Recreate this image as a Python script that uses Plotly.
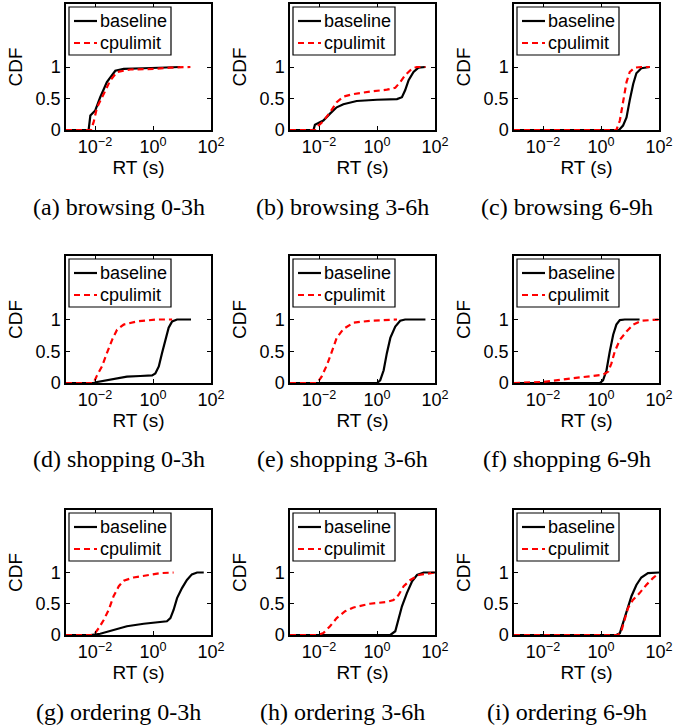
import plotly.graph_objects as go

# ---------------- data (x values are log10 of RT in seconds, y values are CDF) -------------
panel_captions = ["(a) browsing 0-3h", "(b) browsing 3-6h", "(c) browsing 6-9h",
                  "(d) shopping 0-3h", "(e) shopping 3-6h", "(f) shopping 6-9h",
                  "(g) ordering 0-3h", "(h) ordering 3-6h", "(i) ordering 6-9h"]
series_names = ["baseline", "cpulimit"]
x_tick_values = [0.01, 1, 100]
x_tick_labels = ["10<sup>\u22122</sup>", "10<sup>0</sup>", "10<sup>2</sup>"]
y_tick_values = [0, 0.5, 1]
y_tick_labels = ["0", "0.5", "1"]

a_base_log = [-3, -2.22, -2.16, -1.99, -1.82, -1.59, -1.30, -1.01, -0.32, 0.94]
a_base_cdf = [0, 0, 0.23, 0.31, 0.52, 0.76, 0.94, 0.97, 0.98, 1.0]
a_cpu_log = [-3, -2.14, -2.05, -1.93, -1.70, -1.47, -1.24, -0.78, 0.03, 0.6, 1.29]
a_cpu_cdf = [0, 0, 0.12, 0.36, 0.57, 0.79, 0.92, 0.96, 0.97, 0.99, 1.0]

b_base_log = [-3, -2.19, -2.14, -2.02, -1.85, -1.62, -1.39, -1.16, -0.70, 0.0, 0.69, 0.86, 0.97, 1.09, 1.26, 1.43, 1.67]
b_base_cdf = [0, 0, 0.085, 0.11, 0.15, 0.26, 0.36, 0.41, 0.46, 0.48, 0.49, 0.52, 0.63, 0.79, 0.92, 0.99, 1.0]
b_cpu_log = [-3, -2.14, -2.02, -1.85, -1.62, -1.39, -1.16, -0.81, -0.24, 0.34, 0.63, 0.80, 0.97, 1.20, 1.37, 1.67]
b_cpu_cdf = [0, 0, 0.07, 0.14, 0.28, 0.44, 0.53, 0.57, 0.61, 0.64, 0.67, 0.76, 0.87, 0.97, 1.0, 1.0]

c_base_log = [-3, 0.62, 0.76, 0.88, 0.99, 1.11, 1.22, 1.39, 1.68]
c_base_cdf = [0, 0, 0.07, 0.20, 0.47, 0.73, 0.90, 0.98, 1.0]
c_cpu_log = [-3, 0.53, 0.65, 0.76, 0.88, 0.99, 1.16, 1.39, 1.68]
c_cpu_cdf = [0, 0, 0.15, 0.47, 0.76, 0.92, 0.99, 1.0, 1.0]

d_base_log = [-3, -2.05, -1.93, -1.47, -0.90, -0.44, -0.03, 0.08, 0.20, 0.31, 0.43, 0.54, 0.66, 0.83, 1.31]
d_base_cdf = [0, 0, 0.016, 0.05, 0.10, 0.11, 0.12, 0.15, 0.26, 0.47, 0.68, 0.87, 0.97, 1.0, 1.0]
d_cpu_log = [-3, -2.05, -1.93, -1.76, -1.59, -1.41, -1.24, -1.01, -0.55, 0.14, 0.66]
d_cpu_cdf = [0, 0, 0.12, 0.26, 0.47, 0.68, 0.84, 0.92, 0.97, 1.0, 1.0]

e_base_log = [-3, 0.0, 0.11, 0.23, 0.34, 0.46, 0.63, 0.80, 0.97, 1.67]
e_base_cdf = [0, 0, 0.04, 0.20, 0.47, 0.71, 0.89, 0.98, 1.0, 1.0]
e_cpu_log = [-3, -2.06, -1.91, -1.73, -1.56, -1.39, -1.16, -0.81, -0.24, 0.69]
e_cpu_cdf = [0, 0, 0.10, 0.28, 0.49, 0.71, 0.85, 0.95, 0.98, 1.0]

f_base_log = [-3, -0.04, 0.07, 0.19, 0.30, 0.42, 0.53, 0.65, 0.82, 1.33]
f_base_cdf = [0, 0, 0.04, 0.20, 0.49, 0.76, 0.92, 0.99, 1.0, 1.0]
f_cpu_log = [-3, -1.99, -1.07, -0.27, 0.07, 0.25, 0.36, 0.47, 0.65, 0.88, 1.11, 1.39, 2.0]
f_cpu_cdf = [0, 0.016, 0.07, 0.11, 0.13, 0.18, 0.31, 0.49, 0.68, 0.81, 0.92, 0.98, 1.0]

g_base_log = [-3, -2.16, -1.82, -1.36, -0.90, -0.32, 0.25, 0.48, 0.60, 0.71, 0.83, 1.0, 1.17, 1.34, 1.52, 1.75]
g_base_cdf = [0, 0, 0.02, 0.085, 0.14, 0.18, 0.20, 0.22, 0.27, 0.40, 0.59, 0.75, 0.88, 0.97, 1.0, 1.0]
g_cpu_log = [-3, -2.05, -1.87, -1.70, -1.53, -1.36, -1.18, -1.01, -0.67, -0.21, 0.25, 0.71]
g_cpu_cdf = [0, 0, 0.11, 0.24, 0.40, 0.62, 0.78, 0.87, 0.92, 0.96, 0.99, 1.0]

h_base_log = [-3, 0.46, 0.63, 0.74, 0.86, 1.03, 1.21, 1.38, 1.61, 2.0]
h_base_cdf = [0, 0, 0.06, 0.24, 0.46, 0.67, 0.86, 0.96, 1.0, 1.0]
h_cpu_log = [-3, -2.06, -1.85, -1.62, -1.39, -1.10, -0.81, -0.24, 0.34, 0.57, 0.74, 0.92, 1.15, 1.44, 2.0]
h_cpu_cdf = [0, 0, 0.03, 0.14, 0.27, 0.38, 0.44, 0.50, 0.53, 0.56, 0.64, 0.78, 0.88, 0.96, 1.0]

i_base_log = [-3, 0.53, 0.65, 0.76, 0.88, 1.05, 1.22, 1.39, 1.62, 2.0]
i_base_cdf = [0, 0, 0.03, 0.19, 0.40, 0.62, 0.80, 0.92, 0.99, 1.0]
i_cpu_log = [-3, 0.59, 0.70, 0.82, 0.93, 1.10, 1.33, 1.56, 1.79, 2.0]
i_cpu_cdf = [0, 0, 0.06, 0.24, 0.43, 0.56, 0.67, 0.80, 0.91, 0.99]

panels = [
    (a_base_log, a_base_cdf, a_cpu_log, a_cpu_cdf),
    (b_base_log, b_base_cdf, b_cpu_log, b_cpu_cdf),
    (c_base_log, c_base_cdf, c_cpu_log, c_cpu_cdf),
    (d_base_log, d_base_cdf, d_cpu_log, d_cpu_cdf),
    (e_base_log, e_base_cdf, e_cpu_log, e_cpu_cdf),
    (f_base_log, f_base_cdf, f_cpu_log, f_cpu_cdf),
    (g_base_log, g_base_cdf, g_cpu_log, g_cpu_cdf),
    (h_base_log, h_base_cdf, h_cpu_log, h_cpu_cdf),
    (i_base_log, i_base_cdf, i_cpu_log, i_cpu_cdf),
]

# ---------------- layout geometry (page pixels) ----------------
W, H = 694, 728
col_px = [(66, 211), (290, 435), (514, 659)]
row_px = [(4, 130), (256, 383), (510, 635)]
caption_y_px = [207, 459, 712]

SANS = "Liberation Sans, Arial, sans-serif"
SERIF = "Liberation Serif, Times New Roman, serif"
BASE_STYLE = dict(color="black", width=2.2)
CPU_STYLE = dict(color="#ff0000", width=2.2, dash="6px,4px")


def px(xp):
    return xp / W


def py(yp):
    return 1 - yp / H


fig = go.Figure()
annotations = []
shapes = []
layout = dict(
    width=W, height=H, margin=dict(l=0, r=0, t=0, b=0, autoexpand=False),
    paper_bgcolor="white", plot_bgcolor="white",
    font=dict(family=SANS, size=18, color="black"),
    showlegend=False, hovermode=False,
)

for k, (bx, by, cx, cy) in enumerate(panels):
    r, c = divmod(k, 3)
    n = "" if k == 0 else str(k + 1)
    xa, ya = "x" + n, "y" + n
    x0, x1 = col_px[c]
    y0, y1 = row_px[r]
    fig.add_trace(go.Scatter(
        x=[10 ** v for v in bx], y=by, mode="lines", name=series_names[0],
        line=BASE_STYLE, xaxis=xa, yaxis=ya))
    fig.add_trace(go.Scatter(
        x=[10 ** v for v in cx], y=cy, mode="lines", name=series_names[1],
        line=CPU_STYLE, xaxis=xa, yaxis=ya))
    common = dict(showline=True, linecolor="black", linewidth=1.5, mirror="ticks",
                  ticks="inside", ticklen=4, tickcolor="black", showgrid=False,
                  zeroline=False, automargin=False,
                  tickfont=dict(family=SANS, size=18, color="black"))
    layout["xaxis" + n] = dict(
        common, type="log", range=[-3, 2], domain=[px(x0), px(x1)], anchor=ya,
        tickvals=x_tick_values, ticktext=x_tick_labels,
        title=dict(text="RT (s)", font=dict(family=SANS, size=19), standoff=2))
    layout["yaxis" + n] = dict(
        common, range=[0, 2], domain=[py(y1), py(y0)], anchor=xa,
        tickvals=y_tick_values, ticktext=y_tick_labels,
        title=dict(text="CDF", font=dict(family=SANS, size=19), standoff=8))

    # legend box (drawn in the upper-left corner of each panel)
    shapes.append(dict(type="rect", xref="paper", yref="paper",
                       x0=px(x0 + 3), x1=px(x0 + 105), y0=py(y0 + 51), y1=py(y0 + 3),
                       line=dict(color="black", width=1.2), fillcolor="white", layer="above"))
    for j, (name, style) in enumerate(zip(series_names, [BASE_STYLE, CPU_STYLE])):
        ly = y0 + 17 + 22 * j
        shapes.append(dict(type="line", xref="paper", yref="paper",
                           x0=px(x0 + 8), x1=px(x0 + 31), y0=py(ly), y1=py(ly),
                           line=style, layer="above"))
        annotations.append(dict(text=name, x=px(x0 + 32), y=py(ly), xref="paper", yref="paper",
                                showarrow=False, xanchor="left", yanchor="middle",
                                font=dict(family=SANS, size=18, color="black")))

    annotations.append(dict(
        text=panel_captions[k], x=px((x0 + x1) / 2 - 20), y=py(caption_y_px[r]),
        xref="paper", yref="paper", showarrow=False, xanchor="center", yanchor="middle",
        font=dict(family=SERIF, size=24, color="black")))

layout["annotations"] = annotations
layout["shapes"] = shapes
fig.update_layout(**layout)
# remove the default 8px page margin so the figure sits at the window's top-left corner
fig.write_html("out.html", config={"displayModeBar": False},
               post_script="document.body.style.margin='0px';")
